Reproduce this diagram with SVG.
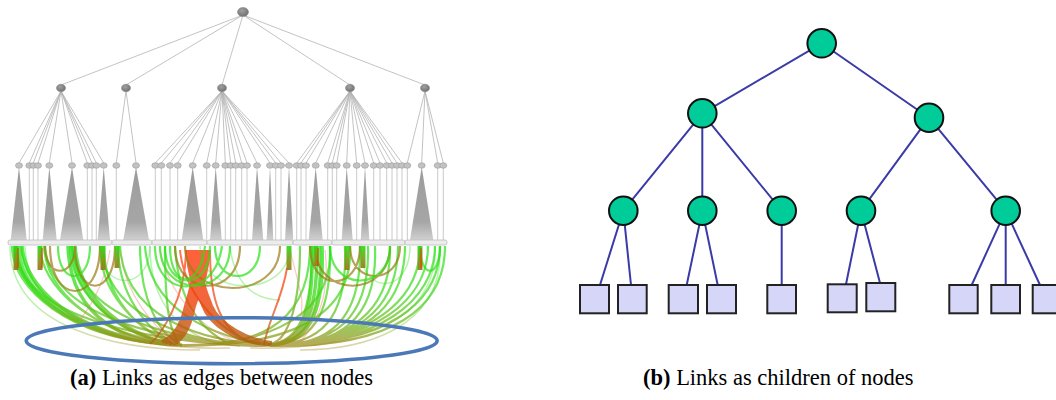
<svg xmlns="http://www.w3.org/2000/svg" width="1056" height="400" viewBox="0 0 1056 400">
<defs>
<linearGradient id="gg" gradientUnits="userSpaceOnUse" x1="0" y1="246" x2="0" y2="346">
<stop offset="0" stop-color="#22e414"/><stop offset="0.5" stop-color="#3ed81a"/><stop offset="0.8" stop-color="#6fb318"/><stop offset="1" stop-color="#9a8410"/>
</linearGradient>
<linearGradient id="gr" gradientUnits="userSpaceOnUse" x1="0" y1="246" x2="0" y2="346">
<stop offset="0" stop-color="#ff3a0a"/><stop offset="0.55" stop-color="#ee400a"/><stop offset="1" stop-color="#a86410"/>
</linearGradient>
<linearGradient id="gs" gradientUnits="userSpaceOnUse" x1="0" y1="246" x2="0" y2="272">
<stop offset="0" stop-color="#2adc16"/><stop offset="0.5" stop-color="#7a9a14"/><stop offset="1" stop-color="#a06a12"/>
</linearGradient>
<linearGradient id="tri" x1="0" y1="0" x2="0" y2="1">
<stop offset="0" stop-color="#9c9c9c"/><stop offset="0.75" stop-color="#a6a6a6"/><stop offset="1" stop-color="#d0d0d0"/>
</linearGradient>
<radialGradient id="nd" cx="0.4" cy="0.35" r="0.7">
<stop offset="0" stop-color="#a0a0a0"/><stop offset="1" stop-color="#6e6e6e"/>
</radialGradient>
</defs>
<style>
.e{stroke:#b4b4b4;stroke-width:0.8;fill:none}
.v{stroke:#c4c4c4;stroke-width:0.9;fill:none}
.n2{fill:url(#nd);stroke:#8a8a8a;stroke-width:0.6}
.n3{fill:#c2c2c2;stroke:#9a9a9a;stroke-width:0.6}
.t{fill:url(#tri)}
.bar{fill:#ececec;stroke:#bdbdbd;stroke-width:0.8}
.g{stroke:url(#gg);stroke-width:2.2;fill:none;stroke-opacity:0.7}
.gt{stroke:url(#gg);stroke-width:3.5;fill:none;stroke-opacity:0.75}
.gf{stroke:url(#gg);stroke-width:1.5;fill:none;stroke-opacity:0.35}
.r{stroke:url(#gr);stroke-width:2;fill:none;stroke-opacity:0.7}
.rt{stroke:url(#gr);stroke-width:4;fill:none;stroke-opacity:0.8}
.rf{stroke:#f08070;stroke-width:1.3;fill:none;stroke-opacity:0.4}
.b{stroke:#9a7a14;stroke-width:2.2;fill:none;stroke-opacity:0.7}
.st{stroke:url(#gs);stroke-width:5;fill:none;stroke-opacity:0.9}
.ring{fill:none;stroke:#4b78b6;stroke-width:3.5}
.tl{stroke:#3b3ba8;stroke-width:2;fill:none}
.c{fill:#00cc99;stroke:#111;stroke-width:2}
.s{fill:#d6d6f8;stroke:#222;stroke-width:2}
.bold{font-weight:bold}
</style>

<g id="tree-a">
<g id="a-edges">
<path class="e" d="M243 15L61 85M243 15L126 85M243 15L222 85M243 15L350 85M243 15L425 85"/>
<path class="e" d="M61 91L19 163M61 91L29.3 163M61 91L33.3 163M61 91L38 163M61 91L49.3 163M61 91L72 163M61 91L87.3 163M61 91L92 163M61 91L96.3 163M61 91L103.7 163
M126 91L116.3 163M126 91L136 163
M222 91L155.3 163M222 91L161.3 163M222 91L170 163M222 91L177.7 163M222 91L192.7 163M222 91L206.7 163M222 91L215.7 163M222 91L225.3 163M222 91L230.7 163M222 91L235.7 163M222 91L241.7 163M222 91L247 163M222 91L257 163M222 91L270 163M222 91L275.7 163M222 91L281 163M222 91L289 163
M350 91L296.7 163M350 91L301 163M350 91L306 163M350 91L315.7 163M350 91L327.7 163M350 91L332.3 163M350 91L336.7 163M350 91L346.7 163M350 91L356.7 163M350 91L365 163M350 91L373.7 163M350 91L380 163M350 91L386.7 163M350 91L392 163M350 91L397 163M350 91L402 163
M425 91L407.3 163M425 91L421.7 163M425 91L437.7 163M425 91L443.3 163"/>
<path class="v" d="M29.3 168V240M33.3 168V240M38 168V240M87.3 168V240M92 168V240M96.3 168V240M116.3 168V240M155.3 168V240M161.3 168V240M170 168V240M177.7 168V240M206.7 168V240M225.3 168V240M230.7 168V240M235.7 168V240M241.7 168V240M247 168V240M275.7 168V240M281 168V240M296.7 168V240M301 168V240M306 168V240M327.7 168V240M332.3 168V240M336.7 168V240M356.7 168V240M373.7 168V240M380 168V240M386.7 168V240M392 168V240M397 168V240M402 168V240M407.3 168V240M437.7 168V240M443.3 168V240"/>
</g>
<g id="a-fans">
<polygon class="t" points="19,167 10.7,240 26.7,240"/>
<polygon class="t" points="49.3,167 42.7,240 56.7,240"/>
<polygon class="t" points="72,167 60,240 83.3,240"/>
<polygon class="t" points="103.7,167 97.7,240 110,240"/>
<polygon class="t" points="136,167 123.3,240 149,240"/>
<polygon class="t" points="192.7,167 181.7,240 203.3,240"/>
<polygon class="t" points="215.7,167 210,240 221.7,240"/>
<polygon class="t" points="257,167 252,240 263.3,240"/>
<polygon class="t" points="270,167 266.7,240 273.3,240"/>
<polygon class="t" points="289,167 285,240 293.3,240"/>
<polygon class="t" points="315.7,167 308.7,240 322.7,240"/>
<polygon class="t" points="346.7,167 341.7,240 352.7,240"/>
<polygon class="t" points="365,167 360.7,240 369.3,240"/>
<polygon class="t" points="421.7,167 410,240 433.3,240"/>
</g>
<g id="a-bar">
<rect class="bar" x="8" y="240" width="104" height="5" rx="2"/>
<rect class="bar" x="112" y="240" width="40" height="5" rx="2"/>
<rect class="bar" x="152" y="240" width="55" height="5" rx="2"/>
<rect class="bar" x="207" y="240" width="86" height="5" rx="2"/>
<rect class="bar" x="293" y="240" width="39" height="5" rx="2"/>
<rect class="bar" x="332" y="240" width="73" height="5" rx="2"/>
<rect class="bar" x="405" y="240" width="42" height="5" rx="2"/>
</g>
<g id="a-root"><ellipse class="n2" cx="243" cy="12" rx="5.5" ry="4.5"/></g>
<g id="a-level2">
<ellipse class="n2" cx="61" cy="88" rx="4.5" ry="3.8"/>
<ellipse class="n2" cx="126" cy="88" rx="4.5" ry="3.8"/>
<ellipse class="n2" cx="222" cy="88" rx="4.5" ry="3.8"/>
<ellipse class="n2" cx="350" cy="88" rx="4.5" ry="3.8"/>
<ellipse class="n2" cx="425" cy="88" rx="4.5" ry="3.8"/>
</g>
<g id="a-level3">
<ellipse class="n3" cx="19" cy="165.5" rx="3.5" ry="2.8"/>
<ellipse class="n3" cx="29.3" cy="165.5" rx="3.5" ry="2.8"/>
<ellipse class="n3" cx="33.3" cy="165.5" rx="3.5" ry="2.8"/>
<ellipse class="n3" cx="38" cy="165.5" rx="3.5" ry="2.8"/>
<ellipse class="n3" cx="49.3" cy="165.5" rx="3.5" ry="2.8"/>
<ellipse class="n3" cx="72" cy="165.5" rx="3.5" ry="2.8"/>
<ellipse class="n3" cx="87.3" cy="165.5" rx="3.5" ry="2.8"/>
<ellipse class="n3" cx="92" cy="165.5" rx="3.5" ry="2.8"/>
<ellipse class="n3" cx="96.3" cy="165.5" rx="3.5" ry="2.8"/>
<ellipse class="n3" cx="103.7" cy="165.5" rx="3.5" ry="2.8"/>
<ellipse class="n3" cx="116.3" cy="165.5" rx="3.5" ry="2.8"/>
<ellipse class="n3" cx="136" cy="165.5" rx="3.5" ry="2.8"/>
<ellipse class="n3" cx="155.3" cy="165.5" rx="3.5" ry="2.8"/>
<ellipse class="n3" cx="161.3" cy="165.5" rx="3.5" ry="2.8"/>
<ellipse class="n3" cx="170" cy="165.5" rx="3.5" ry="2.8"/>
<ellipse class="n3" cx="177.7" cy="165.5" rx="3.5" ry="2.8"/>
<ellipse class="n3" cx="192.7" cy="165.5" rx="3.5" ry="2.8"/>
<ellipse class="n3" cx="206.7" cy="165.5" rx="3.5" ry="2.8"/>
<ellipse class="n3" cx="215.7" cy="165.5" rx="3.5" ry="2.8"/>
<ellipse class="n3" cx="225.3" cy="165.5" rx="3.5" ry="2.8"/>
<ellipse class="n3" cx="230.7" cy="165.5" rx="3.5" ry="2.8"/>
<ellipse class="n3" cx="235.7" cy="165.5" rx="3.5" ry="2.8"/>
<ellipse class="n3" cx="241.7" cy="165.5" rx="3.5" ry="2.8"/>
<ellipse class="n3" cx="247" cy="165.5" rx="3.5" ry="2.8"/>
<ellipse class="n3" cx="257" cy="165.5" rx="3.5" ry="2.8"/>
<ellipse class="n3" cx="270" cy="165.5" rx="3.5" ry="2.8"/>
<ellipse class="n3" cx="275.7" cy="165.5" rx="3.5" ry="2.8"/>
<ellipse class="n3" cx="281" cy="165.5" rx="3.5" ry="2.8"/>
<ellipse class="n3" cx="289" cy="165.5" rx="3.5" ry="2.8"/>
<ellipse class="n3" cx="296.7" cy="165.5" rx="3.5" ry="2.8"/>
<ellipse class="n3" cx="301" cy="165.5" rx="3.5" ry="2.8"/>
<ellipse class="n3" cx="306" cy="165.5" rx="3.5" ry="2.8"/>
<ellipse class="n3" cx="315.7" cy="165.5" rx="3.5" ry="2.8"/>
<ellipse class="n3" cx="327.7" cy="165.5" rx="3.5" ry="2.8"/>
<ellipse class="n3" cx="332.3" cy="165.5" rx="3.5" ry="2.8"/>
<ellipse class="n3" cx="336.7" cy="165.5" rx="3.5" ry="2.8"/>
<ellipse class="n3" cx="346.7" cy="165.5" rx="3.5" ry="2.8"/>
<ellipse class="n3" cx="356.7" cy="165.5" rx="3.5" ry="2.8"/>
<ellipse class="n3" cx="365" cy="165.5" rx="3.5" ry="2.8"/>
<ellipse class="n3" cx="373.7" cy="165.5" rx="3.5" ry="2.8"/>
<ellipse class="n3" cx="380" cy="165.5" rx="3.5" ry="2.8"/>
<ellipse class="n3" cx="386.7" cy="165.5" rx="3.5" ry="2.8"/>
<ellipse class="n3" cx="392" cy="165.5" rx="3.5" ry="2.8"/>
<ellipse class="n3" cx="397" cy="165.5" rx="3.5" ry="2.8"/>
<ellipse class="n3" cx="402" cy="165.5" rx="3.5" ry="2.8"/>
<ellipse class="n3" cx="407.3" cy="165.5" rx="3.5" ry="2.8"/>
<ellipse class="n3" cx="421.7" cy="165.5" rx="3.5" ry="2.8"/>
<ellipse class="n3" cx="437.7" cy="165.5" rx="3.5" ry="2.8"/>
<ellipse class="n3" cx="443.3" cy="165.5" rx="3.5" ry="2.8"/>
</g>
<g id="a-links">
<path class="gf" d="M10 246C10 330 120 350 200 350M150 246C150 320 200 345 240 346M440 246C445 330 360 350 300 350M230 246C235 290 260 300 280 300M25 246C28 330 140 350 230 348M435 246C438 330 340 350 250 348"/>
<path class="g" d="M14 246C14 300 100 344 178 344M17 246C18 305 110 344 178 344M21 246C24 310 120 345 180 345M40 246C42 300 120 342 178 343M44 246C46 305 125 343 180 344M70 246C70 300 130 340 176 343M100 246C100 300 150 340 178 342M104 246C104 305 152 342 180 343M118 246C118 300 155 340 180 343M140 246C140 300 160 335 178 342M12 246C12 290 70 336 160 344M19 246C20 296 80 338 170 344"/>
<path class="gt" d="M72 246C75 310 140 342 180 344M75 246C80 315 150 344 182 345M16 246C16 300 90 340 170 344M68 246C70 320 130 344 178 345M22 246C26 300 100 342 176 344"/>
<path class="g" d="M16 246C16 330 200 346 268 346M45 246C50 330 210 346 268 345M72 246C80 335 220 344 268 344M120 246C125 330 230 344 268 344M145 246C150 320 235 342 268 343M102 246C105 330 220 346 266 346"/>
<path class="g" d="M300 246C300 300 290 340 270 344M312 246C312 310 300 342 270 344M320 246C322 310 310 344 268 344M330 246C332 320 310 344 268 345M345 246C348 320 320 345 268 345M360 246C362 320 330 346 270 346M375 246C378 320 340 346 270 346M390 246C392 310 350 344 272 345M405 246C405 310 360 344 272 344M420 246C420 300 370 343 272 344M435 246C435 300 380 345 272 345M445 246C445 310 390 346 280 346M440 246C440 305 385 344 276 345M428 246C428 300 375 343 274 344M398 246C398 310 355 344 272 344M368 246C370 320 335 345 270 345"/>
<path class="gt" d="M312 246C314 320 300 344 268 345M322 246C325 320 305 344 270 345M317 246C318 320 302 344 269 345"/>
<path class="g" d="M310 246C310 330 250 346 180 346M330 246C335 330 240 346 180 345M350 246C355 335 250 346 182 346M165 246C165 310 170 330 178 342M175 246C178 300 200 330 230 344"/>
<path class="rt" d="M188 250C188 280 198 290 203 305C210 325 238 342 266 344M192 250C192 282 201 292 206 305C214 325 243 342 268 344M196 250C196 282 204 292 208 305C216 325 246 342 270 344M200 250C200 284 207 294 211 306C219 325 249 341 272 343M208 250C208 280 196 295 193 310C189 330 181 340 173 344M204 250C204 282 193 296 190 310C186 328 179 340 169 344M199 250C199 283 190 296 187 310C183 327 176 338 165 343M195 250C195 283 188 297 185 310C181 326 174 337 162 342"/>
<path class="r" d="M287 268C282 300 268 320 264 345M180 250C185 300 230 340 260 344M210 250C210 300 220 330 250 342M186 250C186 300 160 335 150 344"/>
<path class="rf" d="M120 250C125 300 160 330 175 344M160 250C170 300 210 335 240 342M300 250C300 290 295 320 280 340M325 250C330 290 320 320 300 342M110 250C105 280 95 300 80 320M290 250C300 290 305 300 300 320"/>
<path class="b" d="M45 246C45 279 75 279 75 246M50 246C50 306 100 306 100 246M75 246C75 299 115 299 115 246M175 246C175 299 240 299 240 246M185 246C185 302 280 302 280 246M310 246C310 293 360 293 360 246M315 246C315 299 390 299 390 246M350 246C350 286 400 286 400 246"/>
<path class="g" d="M58 246C58 286 90 286 90 246M160 246C160 299 230 299 230 246M165 246C165 292 210 292 210 246M215 246C215 286 260 286 260 246M330 246C330 292 390 292 390 246M420 246C420 279 440 279 440 246M170 246C170 290 200 290 205 246M155 246C155 300 215 300 222 246"/>
<path class="gf" d="M100 246C100 292 150 292 150 246M200 246C200 299 290 299 290 246M360 246C360 296 410 296 410 246"/>
<path class="st" d="M16 246V270M40 246V270M103 246V270M117 246V268M289 246V270M316 246V266M347 246V270M363 246V268M420 246V270"/>
<path class="rf" d="M18 248V268M42 248V268M318 248V266M421 248V268" style="stroke:#ff2a00;stroke-opacity:0.8;stroke-width:1.2"/>
</g>
<g id="a-ring"><ellipse class="ring" cx="231.7" cy="340.7" rx="205.5" ry="23"/></g>
</g>

<g id="tree-b-edges">
<path class="tl" d="M821.7 43.3L702.3 113.3M821.7 43.3L929 117.7M702.3 113.3L623.3 210.7M702.3 113.3L702.3 210.7M702.3 113.3L781.7 210.7M929 117.7L861 210.7M929 117.7L1005.7 210.7"/>
<path class="tl" d="M623.3 210.7L600 285M623.3 210.7L631 285M702.3 210.7L686.7 285M702.3 210.7L717.7 285M781.7 210.7L781.7 285M861 210.7L846 284.3M861 210.7L880 283M1005.7 210.7L971.7 285M1005.7 210.7L1005.7 285M1005.7 210.7L1040 285"/>
</g>
<g id="b-root"><circle class="c" cx="821.7" cy="43.3" r="14.3"/></g>
<g id="b-n1"><circle class="c" cx="702.3" cy="113.3" r="14.3"/></g>
<g id="b-n2"><circle class="c" cx="929" cy="117.7" r="14.3"/></g>
<g id="b-n11"><circle class="c" cx="623.3" cy="210.7" r="14.3"/></g>
<g id="b-n12"><circle class="c" cx="702.3" cy="210.7" r="14.3"/></g>
<g id="b-n13"><circle class="c" cx="781.7" cy="210.7" r="14.3"/></g>
<g id="b-n21"><circle class="c" cx="861" cy="210.7" r="14.3"/></g>
<g id="b-n22"><circle class="c" cx="1005.7" cy="210.7" r="14.3"/></g>
<g id="b-l1"><rect class="s" x="580" y="285" width="29" height="28.3"/></g>
<g id="b-l2"><rect class="s" x="618" y="285" width="28.7" height="28.3"/></g>
<g id="b-l3"><rect class="s" x="668.7" y="285" width="29.3" height="28.3"/></g>
<g id="b-l4"><rect class="s" x="707" y="285" width="29" height="28.3"/></g>
<g id="b-l5"><rect class="s" x="767.3" y="285" width="28.7" height="28.3"/></g>
<g id="b-l6"><rect class="s" x="827.7" y="284.3" width="29" height="28"/></g>
<g id="b-l7"><rect class="s" x="866.3" y="283" width="29" height="28.3"/></g>
<g id="b-l8"><rect class="s" x="949.3" y="285" width="28.4" height="28.3"/></g>
<g id="b-l9"><rect class="s" x="991.3" y="285" width="28.7" height="28.3"/></g>
<g id="b-l10"><rect class="s" x="1032.7" y="285" width="28.5" height="28.3"/></g>

<g id="captions" font-family="'Liberation Serif', 'Times New Roman', serif" font-size="22.5" fill="#000">
<text x="70" y="385"><tspan class="bold">(a)</tspan> Links as edges between nodes</text>
<text x="643" y="385"><tspan class="bold">(b)</tspan> Links as children of nodes</text>
</g>
</svg>
